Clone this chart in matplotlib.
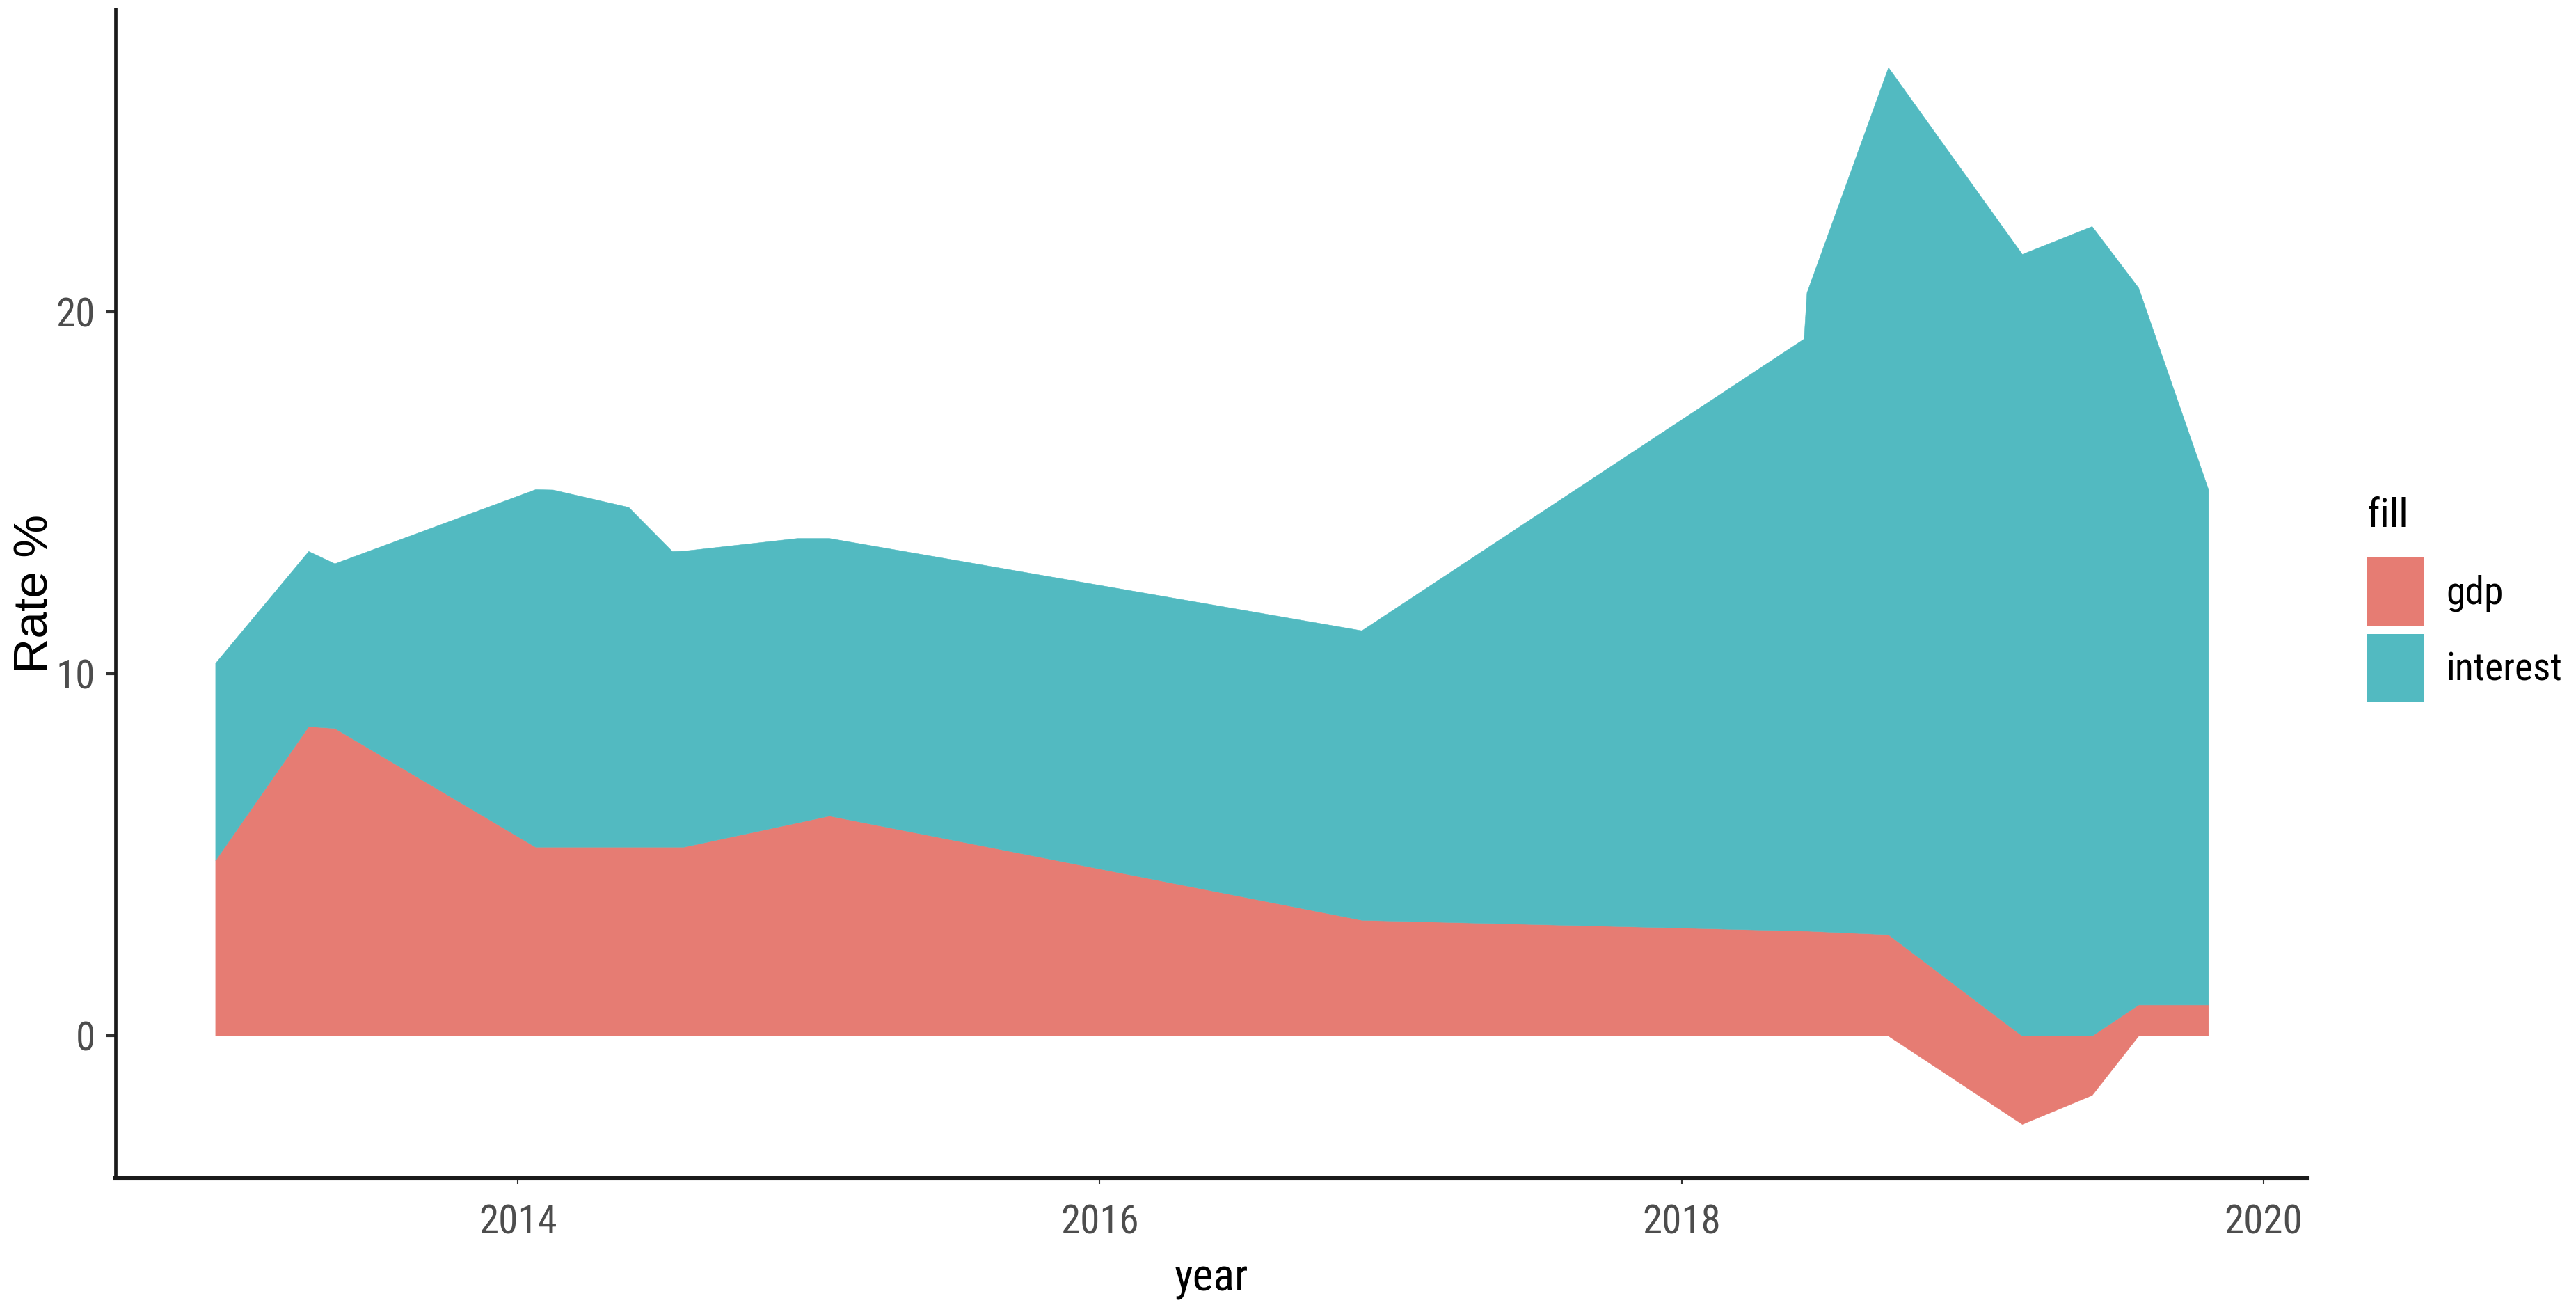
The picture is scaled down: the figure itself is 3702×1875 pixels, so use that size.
import numpy as np
import matplotlib
matplotlib.use('Agg')
import matplotlib.pyplot as plt
from matplotlib.patches import Patch
from matplotlib import font_manager as fm
from matplotlib.font_manager import FontProperties

# ---- data ----
years = [2012.96, 2013.28, 2013.37, 2014.06, 2014.12, 2014.38, 2014.53, 2014.57,
         2014.96, 2015.07, 2016.90, 2018.42, 2018.43, 2018.71, 2019.17, 2019.41,
         2019.57, 2019.81]
gdp = [4.85, 8.55, 8.50, 5.22, 5.22, 5.22, 5.22, 5.22,
       5.89, 6.08, 3.20, 2.90, 2.90, 2.80, -2.44, -1.64,
       0.86, 0.86]
interest = [5.45, 4.84, 4.55, 9.88, 9.87, 9.39, 8.17, 8.18,
            7.86, 7.67, 8.00, 16.36, 17.64, 23.96, 21.60, 22.37,
            19.81, 14.24]
series_names = ['gdp', 'interest']
series_colors = ['#E67C73', '#52BAC1']
x_ticks = [2014, 2016, 2018, 2020]
y_ticks = [0, 10, 20]
x_label = 'year'
y_label = 'Rate %'
legend_title = 'fill'


# ---- fonts: prefer a narrow sans (the reference text is horizontally condensed) ----
def find_narrow():
    fl = fm.fontManager.ttflist
    prefs = ['Liberation Sans Narrow', 'Arial Narrow', 'Roboto Condensed',
             'Open Sans Condensed', 'Noto Sans Condensed']

    def regular_ok(f):
        w = f.weight
        return f.style == 'normal' and (w in (400, 'normal', 'regular', 'book'))

    for p in prefs:
        for f in fl:
            if f.name == p and regular_ok(f):
                return f.fname
    for f in fl:
        fn = f.fname.lower()
        if 'dejavu' in fn or 'mono' in fn or 'cjk' in fn:
            continue
        st = str(f.stretch).lower()
        if ((st in ('condensed', 'semi-condensed') or 'condensed' in fn or 'narrow' in fn)
                and 'extra' not in fn and 'bold' not in fn and 'light' not in fn
                and 'italic' not in fn and 'thin' not in fn and 'medium' not in fn
                and 'black' not in fn and regular_ok(f)):
            return f.fname
    return None


narrow_path = find_narrow()


def nfp(size):
    if narrow_path:
        return FontProperties(fname=narrow_path, size=size)
    return FontProperties(family='Liberation Sans', size=size)


if narrow_path:
    tick_size, leg_lab_size, leg_title_size, xlab_size = 41, 40, 42, 46
else:
    tick_size, leg_lab_size, leg_title_size, xlab_size = 38, 35, 41, 44

W, H = 3702, 1875
fig = plt.figure(figsize=(W / 100, H / 100), dpi=100)
fig.patch.set_facecolor('white')
ax = fig.add_axes([166 / W, 1 - 1693 / H, (3316 - 166) / W, (1693 - 13) / H])
ax.set_facecolor('white')

x = np.array(years)
g = np.array(gdp)
it = np.array(interest)
g_lo = np.minimum(g, 0)
g_hi = np.maximum(g, 0)
i_lo = np.maximum(g, 0)
i_hi = i_lo + it

ax.fill_between(x, g_lo, g_hi, facecolor=series_colors[0], edgecolor=series_colors[0],
                linewidth=0.4, zorder=2)
ax.fill_between(x, i_lo, i_hi, facecolor=series_colors[1], edgecolor=series_colors[1],
                linewidth=0.4, zorder=3)

ax.set_xlim(2012.617, 2020.151)
ax.set_ylim(-3.94, 28.37)
ax.set_xticks(x_ticks)
ax.set_xticklabels([str(t) for t in x_ticks])
ax.set_yticks(y_ticks)
ax.set_yticklabels([str(t) for t in y_ticks])

for s in ['top', 'right']:
    ax.spines[s].set_visible(False)
ax.spines['left'].set_color('#1a1a1a')
ax.spines['bottom'].set_color('#1a1a1a')
ax.spines['left'].set_linewidth(3.4)
ax.spines['bottom'].set_linewidth(4.4)

ax.tick_params(axis='x', length=6, width=1.5, color='#333333', pad=20,
               labelcolor='#4D4D4D')
ax.tick_params(axis='y', length=10, width=3, color='#333333', pad=11,
               labelcolor='#4D4D4D')
for lab in ax.get_xticklabels() + ax.get_yticklabels():
    lab.set_fontproperties(nfp(tick_size))

ax.set_xlabel(x_label, fontproperties=nfp(xlab_size), color='black')
ax.xaxis.set_label_coords(0.5, -0.067)
ax.set_ylabel(y_label, fontsize=50, family='Liberation Sans', color='black')
ax.yaxis.set_label_coords(-0.0265, 0.5)

F = leg_lab_size
hl = 58.3 / F
hh = (70.6 / F - 0.245) / 0.65
handles = [Patch(facecolor=c, edgecolor='none') for c in series_colors]
leg = fig.legend(handles, series_names, title=legend_title, loc='upper left',
                 bbox_to_anchor=(3402 / W, 1 - 714 / H), frameon=False,
                 borderpad=0, borderaxespad=0, handlelength=hl, handleheight=hh,
                 handletextpad=23 / F, labelspacing=8.6 / F,
                 prop=nfp(leg_lab_size),
                 title_fontproperties=nfp(leg_title_size),
                 alignment='left')
leg._legend_box.sep = 23

fig.savefig('out.png', dpi=100, facecolor='white')
